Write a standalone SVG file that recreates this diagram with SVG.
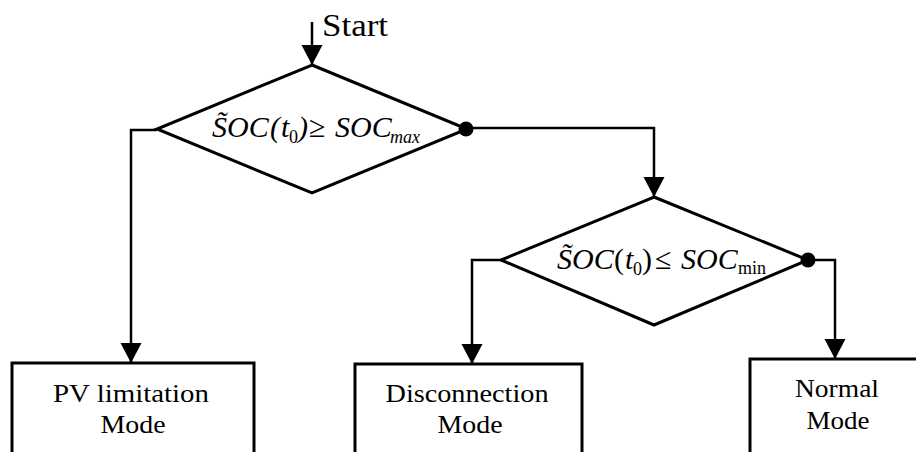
<svg xmlns="http://www.w3.org/2000/svg" width="916" height="452" viewBox="0 0 916 452">
<style>
.shape{fill:none;stroke:#000;stroke-width:3;stroke-linejoin:miter}
.conn{fill:none;stroke:#000;stroke-width:2.5}
.lbl{font-family:"Liberation Serif","Times New Roman",serif;font-size:25px;fill:#000;text-anchor:middle}
.eq{font-family:"Liberation Serif","Times New Roman",serif;font-size:30px;fill:#000;font-style:italic}
.up{font-style:normal}
.sub{font-size:18px}
</style>
<defs>
<marker id="arr" markerUnits="userSpaceOnUse" markerWidth="22" markerHeight="22" viewBox="0 0 22 22" refX="20" refY="11" orient="auto">
<path d="M0,0.5 L20,11 L0,21.5 Z" fill="#000"/>
</marker>
</defs>
<rect width="916" height="452" fill="#fff"/>
<g id="start">
<text x="322" y="36" style="font-family:'Liberation Serif','Times New Roman',serif;font-size:32px" textLength="66" lengthAdjust="spacingAndGlyphs">Start</text>
</g>
<g id="decision1">
<polygon class="shape" points="312,65 467,129 312,193 157,129"/>
<text class="eq"><tspan x="212" y="137">S&#771;OC</tspan><tspan x="270" y="137">(</tspan><tspan x="281" y="137">t</tspan><tspan x="289" y="143" class="up sub">0</tspan><tspan x="298" y="137">)</tspan><tspan x="309" y="137" class="up">≥</tspan><tspan x="335" y="137">SOC</tspan><tspan x="390" y="143" class="sub">max</tspan></text>
</g>
<g id="decision2">
<polygon class="shape" points="654,197 808,260 654,325 501,260"/>
<text class="eq"><tspan x="557" y="269">S&#771;OC</tspan><tspan x="614" y="269" class="up">(</tspan><tspan x="625" y="269">t</tspan><tspan x="633" y="275" class="up sub">0</tspan><tspan x="642" y="269" class="up">)</tspan><tspan x="655" y="269" class="up">≤</tspan><tspan x="681" y="269">SOC</tspan><tspan x="738" y="274" class="up sub">min</tspan></text>
</g>
<g id="pv">
<path class="shape" d="M12,460 V363 H254 V460"/>
<text class="lbl" x="131" y="402" textLength="156" lengthAdjust="spacingAndGlyphs">PV limitation</text>
<text class="lbl" x="133" y="433" textLength="65" lengthAdjust="spacingAndGlyphs">Mode</text>
</g>
<g id="disconnection">
<path class="shape" d="M355,460 V364 H582 V460"/>
<text class="lbl" x="467" y="402" textLength="163" lengthAdjust="spacingAndGlyphs">Disconnection</text>
<text class="lbl" x="470" y="433" textLength="65" lengthAdjust="spacingAndGlyphs">Mode</text>
</g>
<g id="normal">
<path class="shape" d="M750,460 V359 H930"/>
<text class="lbl" x="837" y="397" textLength="84" lengthAdjust="spacingAndGlyphs">Normal</text>
<text class="lbl" x="838" y="429" textLength="63" lengthAdjust="spacingAndGlyphs">Mode</text>
</g>
<g id="connectors">
<path class="conn" d="M312,22 V65" stroke-width="3" marker-end="url(#arr)"/>
<path class="conn" d="M157,130 H131 V363" marker-end="url(#arr)"/>
<path class="conn" d="M466,128 H654 V197" marker-end="url(#arr)"/>
<circle cx="466" cy="129" r="7.5" fill="#000"/>
<path class="conn" d="M501,260 H472 V364" marker-end="url(#arr)"/>
<path class="conn" d="M808,260 H835 V359" marker-end="url(#arr)"/>
<circle cx="808" cy="260" r="7.5" fill="#000"/>
</g>
</svg>
